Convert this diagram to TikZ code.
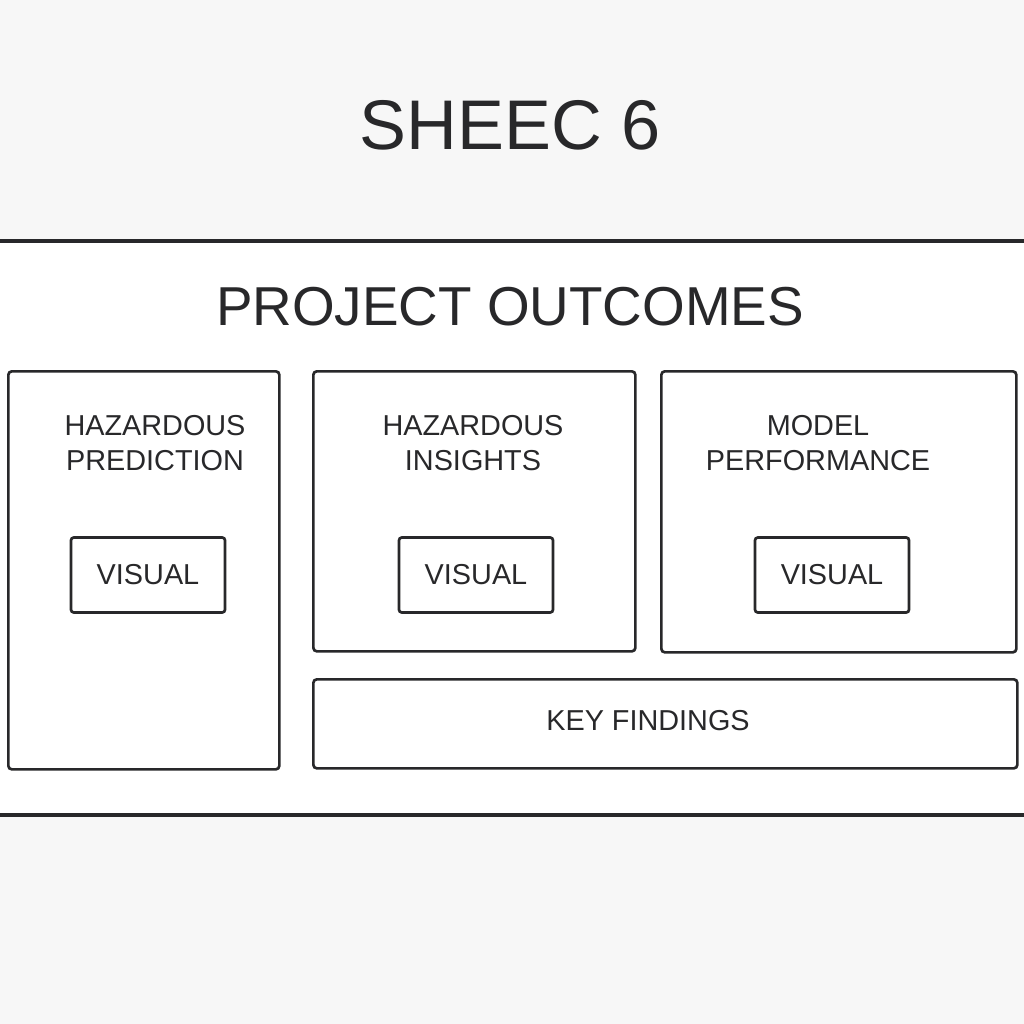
\documentclass[tikz,border=0pt]{standalone}
\usepackage{fontspec}
\setmainfont{Liberation Sans}
\usetikzlibrary{positioning}
\definecolor{pagegray}{RGB}{247,247,247}
\definecolor{inkcolor}{RGB}{40,40,42}

\begin{document}
\begin{tikzpicture}[
    x=0.25mm, y=-0.25mm,
    panel/.style={rectangle, draw=inkcolor, line width=1.9pt, rounded corners=2.5pt,
                  fill=white, anchor=north west, inner sep=0pt},
    visbox/.style={rectangle, draw=inkcolor, line width=1.9pt, rounded corners=2pt,
                   minimum width=38.5mm, minimum height=18.75mm, text=inkcolor,
                   font=\fontsize{20.5}{25}\selectfont},
    boxtitle/.style={text=inkcolor, align=center, font=\fontsize{20.5}{25}\selectfont},
    rule/.style={draw=inkcolor, line width=2.2pt}
]
\useasboundingbox (0,0) rectangle (1024,1024);
\fill[pagegray] (0,0) rectangle (1024,1024);
\fill[white] (0,241) rectangle (1024,815);
\draw[rule] (0,241) -- (1024,241);
\draw[rule] (0,815) -- (1024,815);

% headings
\node[text=inkcolor, font=\fontsize{50}{60}\selectfont] (sheet) at (510,125) {SHEEC 6};
\node[text=inkcolor, font=\fontsize{39}{47}\selectfont] (outcomes) at (510,307) {PROJECT OUTCOMES};

% panels
\node[panel, minimum width=67.75mm, minimum height=99.5mm] (predpanel) at (7,370) {};
\node[panel, minimum width=80.5mm, minimum height=70mm] (insightpanel) at (312,370) {};
\node[panel, minimum width=88.75mm, minimum height=70.25mm] (modelpanel) at (660,370) {};
\node[panel, minimum width=176mm, minimum height=22.25mm] (findpanel) at (312,678) {};

% panel titles
\node[boxtitle] (predtitle) at (155,443) {HAZARDOUS\\PREDICTION};
\node[boxtitle] (insighttitle) at (473,443) {HAZARDOUS\\INSIGHTS};
\node[boxtitle] (modeltitle) at (818,443) {MODEL\\PERFORMANCE};
\node[boxtitle] (findtitle) at (648,721) {KEY FINDINGS};

% visual boxes
\node[visbox] (predvis) at (148,575) {VISUAL};
\node[visbox] (insightvis) at (476,575) {VISUAL};
\node[visbox] (modelvis) at (832,575) {VISUAL};
\end{tikzpicture}
\end{document}
